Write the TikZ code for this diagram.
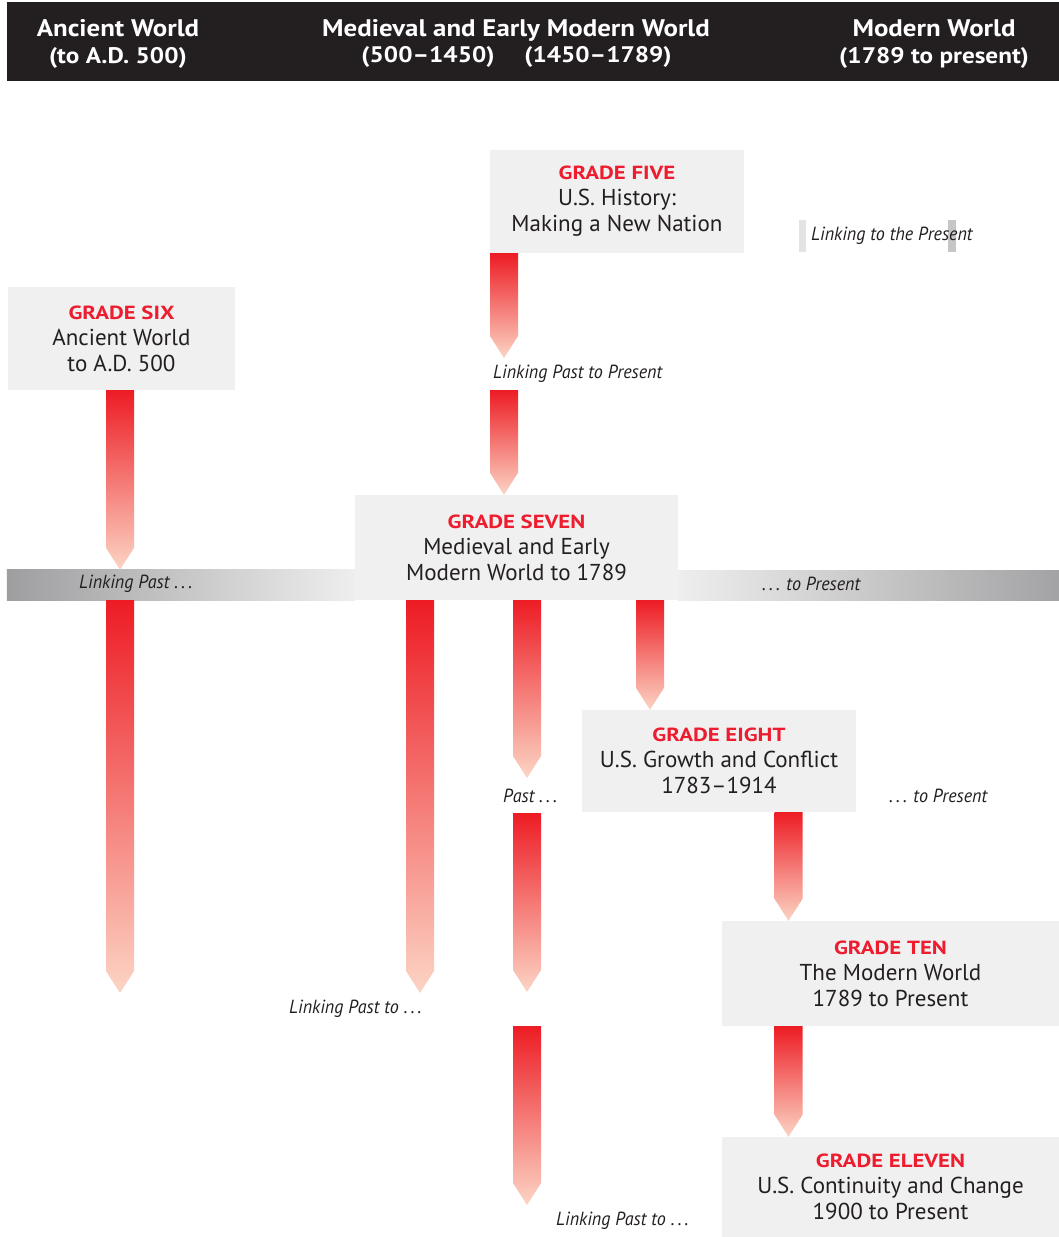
\documentclass[tikz,border=0pt]{standalone}
\usepackage{fontspec}
\setmainfont{PT Sans}
\newfontfamily\linkfont[FakeStretch=0.95]{PT Sans}
\newfontfamily\headfont[FakeStretch=1.12]{PT Sans}
\newfontfamily\titlefont[FakeStretch=1.2]{PT Sans}
\usepackage{tikz}
\usetikzlibrary{calc}

\definecolor{gradered}{RGB}{237,28,46}
\definecolor{arrowtop}{RGB}{237,28,36}
\definecolor{arrowpale}{RGB}{252,212,196}
\definecolor{boxgray}{RGB}{240,240,240}
\definecolor{inkdark}{RGB}{35,31,32}
\definecolor{bandgray}{RGB}{158,158,160}
\definecolor{bandlight}{RGB}{238,238,238}

\newcommand{\linkarrow}[2]{%
  \path[linkbar] let \p1=(#1), \p2=(#2) in
    ({\x1-14pt},{\y1}) -- ({\x1+14pt},{\y1}) -- ({\x1+14pt},{\y2+22pt})
    -- ({\x1},{\y2}) -- ({\x1-14pt},{\y2+22pt}) -- cycle;}
\newcommand{\gradename}[1]{{\color{gradered}\titlefont\fontsize{19}{26}\selectfont\bfseries #1}}
\newcommand{\dateline}{\fontsize{22.5}{27}\selectfont}

\begin{document}
\begin{tikzpicture}[x=1pt,y=-1pt,
    gradebox/.style={fill=boxgray, inner sep=0pt, align=center, text=inkdark,
                     font=\fontsize{23}{26}\selectfont},
    header/.style={text=white, align=center, inner sep=0pt,
                   font=\headfont\fontsize{24}{27}\selectfont\bfseries},
    linklabel/.style={text=inkdark, inner sep=0pt, anchor=west,
                      font=\linkfont\itshape\fontsize{19}{22}\selectfont},
    linkbar/.style={top color=arrowtop, bottom color=arrowpale}]
    \useasboundingbox (0,0) rectangle (1059,1237);

    % header strip
    \fill[inkdark] (7,2) rectangle (1059,81);
    \begin{scope}[every node/.style={header}]
        \node (ancient) at (118,44) {Ancient World\\\dateline(to A.D. 500)};
        \node (medieval) at (516,30) {Medieval and Early Modern World};
        \node (medA) at (428,57) {\dateline(500–1450)};
        \node (medB) at (598,57) {\dateline(1450–1789)};
        \node (modern) at (934,44) {Modern World\\\dateline(1789 to present)};
    \end{scope}

    % time band
    \node[minimum width=1052, minimum height=30, inner sep=0pt] (band) at (533,585) {};
    \fill[left color=bandgray, right color=bandlight] (band.north west) rectangle (355,600);
    \fill[left color=bandlight, right color=bandgray!95!white] (678,570) rectangle (band.south east);

    % grades
    \begin{scope}[every node/.style={gradebox}]
        \node[minimum width=254, minimum height=103] (five) at (617,201.5)
            {\gradename{GRADE FIVE}\\U.S. History:\\Making a New Nation};
        \node[minimum width=227, minimum height=103] (six) at (121.5,338.5)
            {\gradename{GRADE SIX}\\Ancient World\\to A.D. 500};
        \node[minimum width=323, minimum height=105] (seven) at (516.5,547.5)
            {\gradename{GRADE SEVEN}\\Medieval and Early\\Modern World to 1789};
        \node[minimum width=274, minimum height=102] (eight) at (719,761)
            {\gradename{GRADE EIGHT}\\U.S. Growth and Conflict\\1783–1914};
        \node[minimum width=337, minimum height=105] (ten) at (890.5,973.5)
            {\gradename{GRADE TEN}\\The Modern World\\1789 to Present};
        \node[minimum width=337, minimum height=100] (eleven) at (890.5,1187)
            {\gradename{GRADE ELEVEN}\\U.S. Continuity and Change\\1900 to Present};
    \end{scope}

    % labels
    \fill[gray!22] (799,220) rectangle (806,252);
    \fill[gray!45] (948,220) rectangle (956,252);
    \begin{scope}[every node/.style={linklabel}]
        \node (ltp) at (811,236) {Linking to the Present};
        \node (lpp) at (493,374) {Linking Past to Present};
        \node (lpast) at (79,584) {Linking Past .\,.\,.};
        \node (tpres) at (762,584) {.\,.\,. to Present};
        \node (past) at (503,796) {Past .\,.\,.};
        \node (tpres2) at (889,796) {.\,.\,. to Present};
        \node (lpto1) at (289,1009) {Linking Past to .\,.\,.};
        \node (lpto2) at (556,1221) {Linking Past to .\,.\,.};
    \end{scope}

    % arrow columns and free ends
    \coordinate (colA) at (504,0);
    \coordinate (colB) at (120,0);
    \coordinate (colC) at (420,0);
    \coordinate (colD) at (527,0);
    \coordinate (colE) at (650,0);
    \coordinate (colF) at (788.5,0);
    \coordinate (tipA) at (504,358);
    \coordinate (startA) at (504,390);
    \coordinate (tipB) at (120,993);
    \coordinate (tipC) at (420,993);
    \coordinate (tipD1) at (527,778);
    \coordinate (startD2) at (527,813);
    \coordinate (tipD2) at (527,992);
    \coordinate (tipD3) at (527,1205);

    % linking arrows
    \linkarrow{five.south -| colA}{tipA}
    \linkarrow{startA}{seven.north -| colA}
    \linkarrow{six.south -| colB}{band.north -| colB}
    \linkarrow{band.south -| colB}{tipB}
    \linkarrow{band.south -| colC}{tipC}
    \linkarrow{band.south -| colD}{tipD1}
    \linkarrow{band.south -| colE}{eight.north -| colE}
    \linkarrow{startD2}{tipD2}
    \linkarrow{eight.south -| colF}{ten.north -| colF}
    \linkarrow{ten.south -| colD}{tipD3}
    \linkarrow{ten.south -| colF}{eleven.north -| colF}
\end{tikzpicture}
\end{document}
